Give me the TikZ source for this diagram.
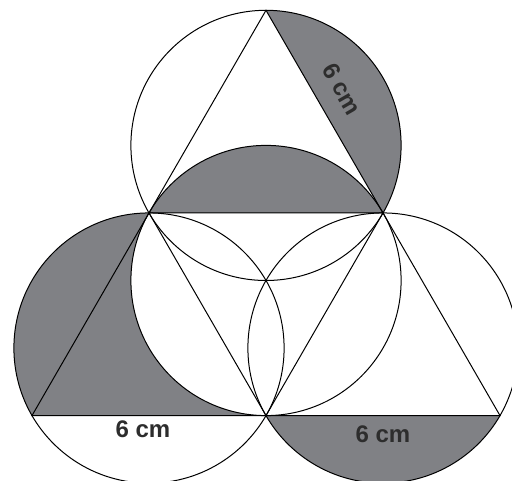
\documentclass[tikz,border=0pt]{standalone}
\usepackage{fontspec}
\setmainfont{Liberation Sans}
\usetikzlibrary{calc,positioning}
\definecolor{seggray}{RGB}{128,129,133}
\definecolor{inkdark}{RGB}{45,45,45}
\newcommand{\crad}{135.1pt}

\begin{document}
\begin{tikzpicture}[x=1pt, y=1pt,
                    line width=1pt,
                    segfill/.style={fill=seggray},
                    every node/.style={font=\fontsize{24}{28}\selectfont\bfseries, text=inkdark}]
\useasboundingbox (0,0) rectangle (512,481);
\clip (0,0) rectangle (512,481);
% corners of the small triangles
\coordinate (B) at (32,65.4);
\coordinate (M) at (266,65.4);
\coordinate (C) at (500,65.4);
\coordinate (L) at (149,268.05);
\coordinate (R) at (383,268.05);
\coordinate (A) at (266,470.7);
% circle centres
\coordinate (oT) at (266,335.6);
\coordinate (oM) at (266,200.5);
\coordinate (oL) at (149,132.95);
\coordinate (oR) at (383,132.95);
% shaded parts
\fill[segfill] (A) arc[start angle=90, end angle=-30, radius=\crad] -- cycle;
\fill[segfill] (R) arc[start angle=30, end angle=150, radius=\crad] -- cycle;
\fill[segfill] (L) arc[start angle=90, end angle=210, radius=\crad] -- (M)
               arc[start angle=270, end angle=150, radius=\crad] -- cycle;
\fill[segfill] (M) arc[start angle=210, end angle=330, radius=\crad] -- cycle;
% circles
\draw (oT) circle[radius=\crad];
\draw (oM) circle[radius=\crad];
\draw (oL) circle[radius=\crad];
\draw (oR) circle[radius=\crad];
% triangles
\draw (B) -- (C) -- (A) -- cycle;
\draw (L) -- (R) -- (M) -- cycle;
% lengths
\coordinate (midBM) at ($(B)!.5!(M)$);
\coordinate (midMC) at ($(M)!.5!(C)$);
\node[below=1pt of midBM, xshift=-6pt] (lenLeft) {6 cm};
\node[below=6pt of midMC] (lenRight) {6 cm};
\node[rotate=-60] (lenTop) at ($(A)!.453!(R)+(23,13.3)$) {6 cm};
\end{tikzpicture}
\end{document}
